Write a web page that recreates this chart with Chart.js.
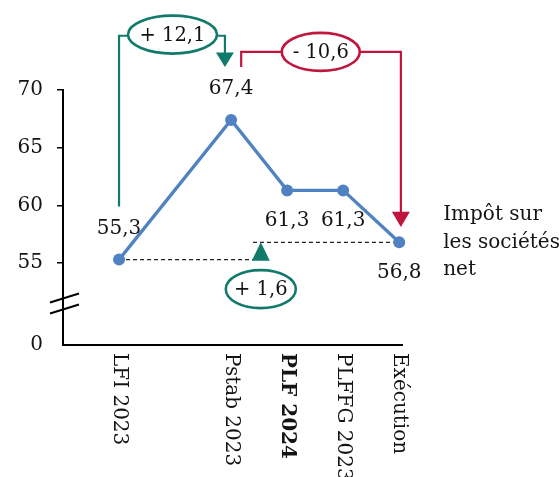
<!DOCTYPE html>
<html>
<head>
<meta charset="utf-8">
<script src="https://cdn.jsdelivr.net/npm/chart.js@4.4.1/dist/chart.umd.min.js"></script>
<style>
html,body{margin:0;padding:0;background:#fff;}
canvas{display:block;}
</style>
</head>
<body>
<canvas id="c" width="560" height="477"></canvas>
<script>
// ---- data ----
const categories = ['', 'LFI 2023', '', 'Pstab 2023', 'PLF 2024', 'PLFFG 2023', 'Exécution'];
const boldCategories = ['PLF 2024'];
const values = [null, 55.3, null, 67.4, 61.3, 61.3, 56.8];
const valueLabels = ['', '55,3', '', '67,4', '61,3', '61,3', '56,8'];
const labelSides = ['', 'above', '', 'above', 'below', 'below', 'below'];
const yTickValues = [55, 60, 65, 70];
const yBreakBase = 47.9;      // value drawn at the "0" tick (broken axis)
const yBaseLabel = '0';
const seriesName = ['Impôt sur', 'les sociétés', 'net'];
const deltaUp = '+ 12,1';
const deltaDown = '- 10,6';
const deltaNet = '+ 1,6';

const FONT = '"DejaVu Serif", serif';
const TXT = '#141414';
const BLUE = '#5082C2';
const TEAL = '#127A6A';
const RED = '#C0153F';

const points = categories.map((c, i) => ({x: i, y: values[i]})).filter(p => p.y !== null);

function ellipse(ctx, cx, cy, rx, ry, color, text) {
  ctx.save();
  ctx.beginPath();
  ctx.ellipse(cx, cy, rx, ry, 0, 0, Math.PI * 2);
  ctx.fillStyle = '#fff';
  ctx.fill();
  ctx.lineWidth = 2.6;
  ctx.strokeStyle = color;
  ctx.stroke();
  ctx.fillStyle = TXT;
  ctx.font = '19.5px ' + FONT;
  ctx.textAlign = 'center';
  ctx.textBaseline = 'middle';
  ctx.fillText(text, cx, cy + 1);
  ctx.restore();
}
function tri(ctx, x, yTip, yBase, hw, color) {
  ctx.save();
  ctx.beginPath();
  ctx.moveTo(x, yTip);
  ctx.lineTo(x - hw, yBase);
  ctx.lineTo(x + hw, yBase);
  ctx.closePath();
  ctx.fillStyle = color;
  ctx.fill();
  ctx.restore();
}
function poly(ctx, pts, color, w) {
  ctx.save();
  ctx.beginPath();
  ctx.moveTo(pts[0][0], pts[0][1]);
  for (let k = 1; k < pts.length; k++) ctx.lineTo(pts[k][0], pts[k][1]);
  ctx.lineWidth = w;
  ctx.strokeStyle = color;
  ctx.stroke();
  ctx.restore();
}

const deco = {
  id: 'deco',
  beforeDatasetsDraw(chart) {
    const ctx = chart.ctx, xs = chart.scales.x, ys = chart.scales.y;
    const px = v => xs.getPixelForValue(v), py = v => ys.getPixelForValue(v);
    ctx.save();
    ctx.setLineDash([4, 3]);
    ctx.lineWidth = 1.3;
    ctx.strokeStyle = '#222';
    ctx.beginPath();
    ctx.moveTo(px(1), py(values[1]));
    ctx.lineTo(px(3.39), py(values[1]));
    ctx.moveTo(px(3.39), py(values[6]));
    ctx.lineTo(px(6), py(values[6]));
    ctx.stroke();
    ctx.restore();
  },
  afterDraw(chart) {
    const ctx = chart.ctx, xs = chart.scales.x, ys = chart.scales.y;
    const px = v => xs.getPixelForValue(v), py = v => ys.getPixelForValue(v);
    const area = chart.chartArea;

    // axis break marks
    const yb = (py(55) + py(yBreakBase)) / 2;
    const ax = area.left;
    [-6, 5].forEach(d => {
      poly(ctx, [[ax - 13, yb + d + 4.5], [ax + 16, yb + d - 4.5]], '#000', 2);
    });

    // x category labels (rotated, reading downward)
    categories.forEach((c, i) => {
      if (!c) return;
      ctx.save();
      ctx.translate(px(i), area.bottom + 8);
      ctx.rotate(Math.PI / 2);
      ctx.font = (boldCategories.includes(c) ? 'bold ' : '') + '20px ' + FONT;
      ctx.fillStyle = TXT;
      ctx.textAlign = 'left';
      ctx.textBaseline = 'middle';
      ctx.fillText(c, 0, 0);
      ctx.restore();
    });

    // value labels
    ctx.save();
    ctx.font = '20px ' + FONT;
    ctx.fillStyle = TXT;
    ctx.textAlign = 'center';
    ctx.textBaseline = 'middle';
    values.forEach((v, i) => {
      if (v === null) return;
      const off = labelSides[i] === 'above' ? -31 : 30;
      ctx.fillText(valueLabels[i], px(i), py(v) + off);
    });
    // series name
    ctx.textAlign = 'left';
    seriesName.forEach((s, k) => {
      ctx.fillText(s, px(6) + 44, py(values[6]) + (k - 1) * 27.5);
    });
    ctx.restore();

    // green bracket: LFI -> Pstab
    const gl = py(74.7);
    poly(ctx, [[px(1), py(59.9)], [px(1), gl], [px(2.89), gl], [px(2.89), py(73.2)]], TEAL, 2.2);
    tri(ctx, px(2.89), py(72.0), py(73.25), 9, TEAL);
    ellipse(ctx, px(1.954), py(74.8), 44.5, 19, TEAL, deltaUp);

    // red bracket: Pstab -> Exécution
    const rl = py(73.3);
    poly(ctx, [[px(3.18), py(72.0)], [px(3.18), rl], [px(6.03), rl], [px(6.03), py(59.4)]], RED, 2.2);
    tri(ctx, px(6.03), py(58.12), py(59.45), 9, RED);
    ellipse(ctx, px(4.6), py(73.3), 39, 19, RED, deltaDown);

    // net change
    tri(ctx, px(3.53), py(values[6]), py(55.2), 9, TEAL);
    ellipse(ctx, px(3.53), py(52.74), 35, 19, TEAL, deltaNet);
  }
};

new Chart(document.getElementById('c'), {
  type: 'line',
  data: {
    datasets: [{
      data: points,
      borderColor: BLUE,
      backgroundColor: BLUE,
      borderWidth: 3.3,
      pointRadius: 6,
      pointBackgroundColor: BLUE,
      pointBorderColor: BLUE,
      pointBorderWidth: 0,
      tension: 0,
      clip: false
    }]
  },
  options: {
    responsive: false,
    animation: false,
    layout: {padding: {top: 90, right: 158, bottom: 0, left: 0}},
    plugins: {legend: {display: false}, tooltip: {enabled: false}},
    scales: {
      x: {
        type: 'linear',
        min: 0,
        max: 6.05,
        grid: {display: false},
        ticks: {display: false},
        border: {display: true, color: '#000', width: 2},
        afterFit: s => { s.height = 132; }
      },
      y: {
        type: 'linear',
        min: yBreakBase,
        max: 70,
        afterBuildTicks: s => { s.ticks = [yBreakBase].concat(yTickValues).map(v => ({value: v})); },
        ticks: {
          font: {family: FONT, size: 20},
          color: TXT,
          padding: 14,
          callback: v => (v === yBreakBase ? yBaseLabel : String(v))
        },
        grid: {
          drawOnChartArea: false,
          tickLength: 6,
          lineWidth: 1.5,
          color: c => (c.index === 0 ? 'rgba(0,0,0,0)' : '#000')
        },
        border: {display: true, color: '#000', width: 2},
        afterFit: s => { s.width = 63; }
      }
    }
  },
  plugins: [deco]
});
</script>
</body>
</html>
